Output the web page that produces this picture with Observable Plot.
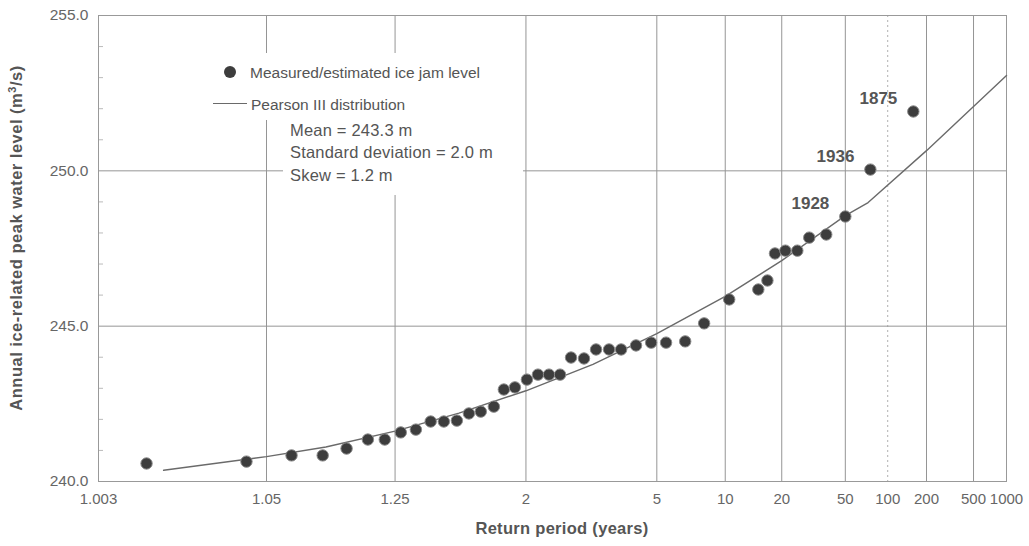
<!DOCTYPE html>
<html><head><meta charset="utf-8">
<script src="https://cdn.jsdelivr.net/npm/d3@7"></script>
<script src="https://cdn.jsdelivr.net/npm/@observablehq/plot@0.6"></script>
<style>
body{margin:0;background:#fff;font-family:"Liberation Sans",Arial,sans-serif;}
#wrap{position:relative;width:1029px;height:546px;overflow:hidden;}
.abs{position:absolute;white-space:nowrap;color:#555;font-size:15.5px;line-height:17px;transform:translateY(-50%);}
.stat{font-size:16.5px;letter-spacing:0.2px;}
.mask{position:absolute;background:#fff;}
</style></head><body><div id="wrap"></div>
<script>
// ---- data ----
const returnPeriods = [1.0074,1.0375,1.0705,1.1057,1.142,1.183,1.2225,1.2665,1.315,1.370,1.426,1.489,1.555,1.628,1.719,1.797,1.893,2.01,2.131,2.267,2.42,2.591,2.821,3.067,3.372,3.70,4.175,4.753,5.441,6.54,7.94,10.46,14.8,16.6,18.3,21.0,24.7,29.2,37.4,50,74.7,157];
const levels = [240.58,240.64,240.84,240.84,241.06,241.35,241.35,241.58,241.67,241.93,241.93,241.96,242.19,242.25,242.41,242.96,243.03,243.28,243.44,243.44,243.44,243.99,243.96,244.25,244.25,244.25,244.38,244.47,244.47,244.51,245.09,245.86,246.18,246.47,247.34,247.43,247.43,247.85,247.95,248.53,250.04,251.91];
const curveReturnPeriods = [1.01,1.05,1.11,1.25,1.5,2,3,5,10,20,50,72,200,1000];
const curveLevels = [240.36,240.8,241.11,241.62,242.2,242.92,243.77,244.76,245.96,247.11,248.56,248.98,250.65,253.07];
const labelYears = ["1875","1936","1928"];
const labelReturnPeriods = [157,74.7,50];
const labelLevels = [251.91,250.04,248.53];
const xTickValues = [1.003,1.05,1.25,2,5,10,20,50,100,200,500,1000];
const xTickLabels = ["1.003","1.05","1.25","2","5","10","20","50","100","200","500","1000"];
const xGridValues = [1.05,1.25,2,5,10,20,50,200,500];
const xDottedGrid = [100];
const yTicks = [240,245,250,255];
const yGrid = [245,250];
const yMinor = [241,242,243,244,246,247,248,249,251,252,253,254];

// inverse standard normal CDF (Acklam) for normal probability paper
function normInv(p){
  const a=[-3.969683028665376e+01,2.209460984245205e+02,-2.759285104469687e+02,1.383577518672690e+02,-3.066479806614716e+01,2.506628277459239e+00];
  const b=[-5.447609879822406e+01,1.615858368580409e+02,-1.556989798598866e+02,6.680131188771972e+01,-1.328068155288572e+01];
  const c=[-7.784894002430293e-03,-3.223964580411365e-01,-2.400758277161838e+00,-2.549732539343734e+00,4.374664141464968e+00,2.938163982698783e+00];
  const d=[7.784695709041462e-03,3.224671290700398e-01,2.445134137142996e+00,3.754408661907416e+00];
  const pl=0.02425, ph=1-pl; let q,r;
  if(p<pl){q=Math.sqrt(-2*Math.log(p));return (((((c[0]*q+c[1])*q+c[2])*q+c[3])*q+c[4])*q+c[5])/((((d[0]*q+d[1])*q+d[2])*q+d[3])*q+1);}
  if(p<=ph){q=p-0.5;r=q*q;return (((((a[0]*r+a[1])*r+a[2])*r+a[3])*r+a[4])*r+a[5])*q/(((((b[0]*r+b[1])*r+b[2])*r+b[3])*r+b[4])*r+1);}
  q=Math.sqrt(-2*Math.log(1-p));return -(((((c[0]*q+c[1])*q+c[2])*q+c[3])*q+c[4])*q+c[5])/((((d[0]*q+d[1])*q+d[2])*q+d[3])*q+1);
}
const zOf = T => normInv(1 - 1/T);

const points = returnPeriods.map((T,i)=>({z:zOf(T), v:levels[i]}));
const curve = curveReturnPeriods.map((T,i)=>({z:zOf(T), v:curveLevels[i]}));
const labels = labelYears.map((y,i)=>({year:y, z:zOf(labelReturnPeriods[i]), v:labelLevels[i]}));
const xTickZ = xTickValues.map(zOf);
const xLabelMap = new Map(xTickZ.map((z,i)=>[z, xTickLabels[i]]));

const W = 1029, H = 546, ML = 98, MR = 23, MT = 15, MB = 65;
const chart = Plot.plot({
  width:W, height:H, marginLeft:ML, marginRight:MR, marginTop:MT, marginBottom:MB,
  style:{fontFamily:'"Liberation Sans", Arial, sans-serif', background:"white", overflow:"visible"},
  x:{type:"linear", domain:[zOf(1.003), zOf(1000)]},
  y:{domain:[240,255]},
  marks:[
    Plot.gridX(xGridValues.map(zOf), {stroke:"#959595", strokeOpacity:1}),
    Plot.gridX(xDottedGrid.map(zOf), {stroke:"#b0b0b0", strokeOpacity:1, strokeDasharray:"2,3"}),
    Plot.gridY(yGrid, {stroke:"#959595", strokeOpacity:1}),
    Plot.tickY(yMinor, {stroke:"#bbb", insetRight:(W-ML-MR)-5}),
    Plot.frame({stroke:"#999"}),
    Plot.axisY(yTicks, {tickSize:0, tickPadding:10, tickFormat:d3.format(".1f"), fontSize:15.5, fill:"#666", label:null}),
    Plot.axisX(xTickZ, {tickSize:0, tickPadding:12, tickFormat:d=>xLabelMap.get(d), fontSize:15, fill:"#666", label:null}),
    Plot.line(curve, {x:"z", y:"v", stroke:"#6a6a6a", strokeWidth:1.4}),
    Plot.dot(points, {x:"z", y:"v", r:5.7, fill:"#3d3d3d", stroke:"#8a8a8a", strokeWidth:1}),
    Plot.text(labels, {x:"z", y:"v", text:"year", textAnchor:"end", dx:-16, dy:-13, fontSize:17, fontWeight:"bold", fill:"#555"})
  ]
});
const wrap = document.getElementById("wrap");
wrap.appendChild(chart);
chart.style.position="absolute"; chart.style.left="0"; chart.style.top="0";

function add(html){ const t=document.createElement("div"); t.innerHTML=html; while(t.firstChild) wrap.appendChild(t.firstChild); }
add(`<div class="mask" style="left:200px;top:53px;width:300px;height:67px"></div>
<div class="mask" style="left:283px;top:120px;width:240px;height:75px"></div>
<div style="position:absolute;left:224px;top:66px;width:12px;height:12px;border-radius:50%;background:#3d3d3d;"></div>
<div class="abs" style="left:250px;top:72px">Measured/estimated ice jam level</div>
<div style="position:absolute;left:213px;top:103px;width:34px;height:0;border-top:1.4px solid #6a6a6a;"></div>
<div class="abs" style="left:251px;top:104px">Pearson III distribution</div>
<div class="abs stat" style="left:290px;top:130px">Mean = 243.3 m</div>
<div class="abs stat" style="left:290px;top:152px">Standard deviation = 2.0 m</div>
<div class="abs stat" style="left:290px;top:175px">Skew = 1.2 m</div>
<div style="position:absolute;left:562px;top:528px;transform:translate(-50%,-50%);font-weight:bold;font-size:16.5px;letter-spacing:0.3px;color:#555;white-space:nowrap">Return period (years)</div>
<div style="position:absolute;left:16px;top:238px;transform:translate(-50%,-50%) rotate(-90deg);font-weight:bold;font-size:16.5px;letter-spacing:0.5px;color:#555;white-space:nowrap">Annual ice-related peak water level (m<sup style="font-size:11px">3</sup>/s)</div>`);
</script></body></html>
